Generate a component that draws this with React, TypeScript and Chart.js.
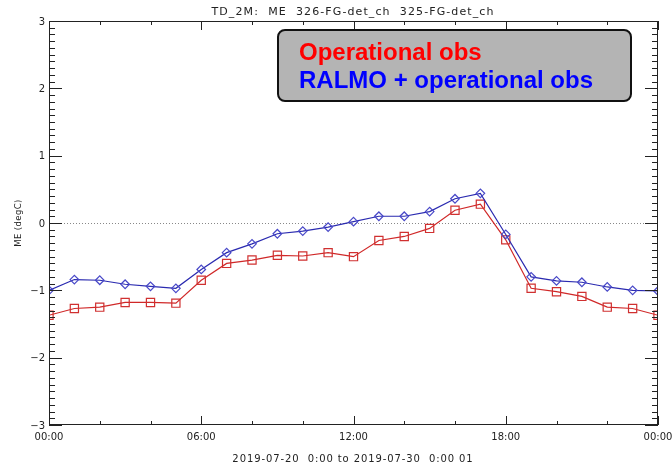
import React, { useEffect, useRef } from 'react';
import { Chart, registerables } from 'chart.js';

Chart.register(...registerables);

const hours = [0, 1, 2, 3, 4, 5, 6, 7, 8, 9, 10, 11, 12, 13, 14, 15, 16, 17, 18, 19, 20, 21, 22, 23, 24];
const ralmoObs = [-1.0, -0.84, -0.85, -0.91, -0.94, -0.97, -0.69, -0.44, -0.31, -0.16, -0.12, -0.06, 0.02, 0.1, 0.1, 0.17, 0.36, 0.44, -0.17, -0.8, -0.86, -0.88, -0.95, -1.0, -1.01];
const operationalObs = [-1.37, -1.27, -1.25, -1.18, -1.18, -1.19, -0.85, -0.6, -0.55, -0.48, -0.49, -0.44, -0.5, -0.26, -0.2, -0.08, 0.19, 0.28, -0.25, -0.97, -1.02, -1.09, -1.25, -1.27, -1.37];
const yTickValues = [-3, -2, -1, 0, 1, 2, 3];
const xTickHours = [0, 6, 12, 18, 24];
const xTickLabels = ['00:00', '06:00', '12:00', '18:00', '00:00'];
const titleText = 'TD_2M:  ME  326-FG-det_ch  325-FG-det_ch';
const footerText = '2019-07-20  0:00 to 2019-07-30  0:00 01';
const yAxisTitle = 'ME (degC)';
const legendLines = ['Operational obs', 'RALMO + operational obs'];
const legendColors = ['#ff0000', '#0000ff'];

const decorPlugin = {
  id: 'decor',
  beforeDatasetsDraw(chart: any) {
    const { ctx, chartArea, scales } = chart;
    const y0 = scales.y.getPixelForValue(0);
    ctx.save();
    ctx.strokeStyle = '#888888';
    ctx.lineWidth = 1;
    ctx.setLineDash([1, 2]);
    ctx.beginPath();
    ctx.moveTo(chartArea.left, Math.round(y0) + 0.5);
    ctx.lineTo(chartArea.right, Math.round(y0) + 0.5);
    ctx.stroke();
    ctx.restore();
  },
  afterDraw(chart: any) {
    const { ctx, chartArea, scales } = chart;
    const { left, right, top, bottom } = chartArea;
    const xs = scales.x;
    const ys = scales.y;
    ctx.save();
    ctx.strokeStyle = '#222222';
    ctx.lineWidth = 1;
    ctx.strokeRect(left + 0.5, top + 0.5, right - left - 1, bottom - top - 1);

    ctx.beginPath();
    for (let i = -30; i <= 30; i++) {
      const v = i / 10;
      const py = Math.round(ys.getPixelForValue(v)) + 0.5;
      const len = i % 10 === 0 ? 13 : 6;
      ctx.moveTo(left, py);
      ctx.lineTo(left + len, py);
      ctx.moveTo(right, py);
      ctx.lineTo(right - len, py);
    }
    for (let h = 0; h <= 24; h += 2) {
      const px = Math.round(xs.getPixelForValue(h)) + 0.5;
      const len = h % 6 === 0 ? 9 : 4;
      ctx.moveTo(px, bottom);
      ctx.lineTo(px, bottom - len);
      ctx.moveTo(px, top);
      ctx.lineTo(px, top + len);
    }
    ctx.stroke();

    ctx.fillStyle = '#222222';
    ctx.font = '10px "DejaVu Sans"';
    ctx.textAlign = 'right';
    ctx.textBaseline = 'middle';
    yTickValues.forEach((v) => {
      ctx.fillText(v < 0 ? '\u2212' + Math.abs(v) : String(v), left - 4, ys.getPixelForValue(v) + 1);
    });
    ctx.textAlign = 'center';
    xTickHours.forEach((h, i) => {
      ctx.fillText(xTickLabels[i], xs.getPixelForValue(h), bottom + 12);
    });

    ctx.font = '11px "DejaVu Sans"';
    (ctx as any).letterSpacing = '1.1px';
    ctx.fillText(titleText, 353, 12);
    ctx.font = '10px "DejaVu Sans"';
    (ctx as any).letterSpacing = '0.9px';
    ctx.fillText(footerText, 353, 459);
    (ctx as any).letterSpacing = '0px';

    ctx.save();
    ctx.translate(19, (top + bottom) / 2);
    ctx.rotate(-Math.PI / 2);
    ctx.font = '8.5px "DejaVu Sans"';
    (ctx as any).letterSpacing = '0.4px';
    ctx.fillText(yAxisTitle, 0, 0);
    ctx.restore();
    (ctx as any).letterSpacing = '0px';

    const bx = 278, by = 30, bw = 353, bh = 71, r = 7;
    ctx.beginPath();
    ctx.moveTo(bx + r, by);
    ctx.arcTo(bx + bw, by, bx + bw, by + bh, r);
    ctx.arcTo(bx + bw, by + bh, bx, by + bh, r);
    ctx.arcTo(bx, by + bh, bx, by, r);
    ctx.arcTo(bx, by, bx + bw, by, r);
    ctx.closePath();
    ctx.fillStyle = '#b4b4b4';
    ctx.fill();
    ctx.lineWidth = 2;
    ctx.strokeStyle = '#111111';
    ctx.stroke();
    ctx.font = 'bold 24px "Liberation Sans"';
    ctx.textAlign = 'left';
    ctx.textBaseline = 'alphabetic';
    legendLines.forEach((t, i) => {
      ctx.fillStyle = legendColors[i];
      ctx.fillText(t, 299, 60 + i * 28);
    });
    ctx.restore();
  },
};

export default function App() {
  const ref = useRef<HTMLCanvasElement | null>(null);
  useEffect(() => {
    document.body.style.margin = '0';
    const canvas = ref.current;
    if (!canvas) return;
    const chart = new Chart(canvas, {
      type: 'line',
      data: {
        labels: hours,
        datasets: [
          {
            label: legendLines[1],
            data: hours.map((h, i) => ({ x: h, y: ralmoObs[i] })),
            borderColor: '#2a2ab0',
            borderWidth: 1.2,
            pointStyle: 'rectRot',
            pointRadius: 4.3,
            pointBorderColor: '#4848c8',
            pointBackgroundColor: 'rgba(0,0,0,0)',
            pointBorderWidth: 1.2,
            tension: 0,
          },
          {
            label: legendLines[0],
            data: hours.map((h, i) => ({ x: h, y: operationalObs[i] })),
            borderColor: '#d02828',
            borderWidth: 1.2,
            pointStyle: 'rect',
            pointRadius: 5.8,
            pointBorderColor: '#d03030',
            pointBackgroundColor: 'rgba(0,0,0,0)',
            pointBorderWidth: 1.2,
            tension: 0,
          },
        ],
      },
      options: {
        responsive: false,
        animation: false,
        layout: { padding: { left: 49, right: 14, top: 21, bottom: 44 } },
        plugins: { legend: { display: false }, tooltip: { enabled: false } },
        scales: {
          x: { type: 'linear', min: 0, max: 24, display: false },
          y: { type: 'linear', min: -3, max: 3, display: false },
        },
      },
      plugins: [decorPlugin],
    });
    return () => chart.destroy();
  }, []);
  return <canvas ref={ref} width={672} height={469} style={{ display: 'block', background: '#ffffff' }} />;
}
